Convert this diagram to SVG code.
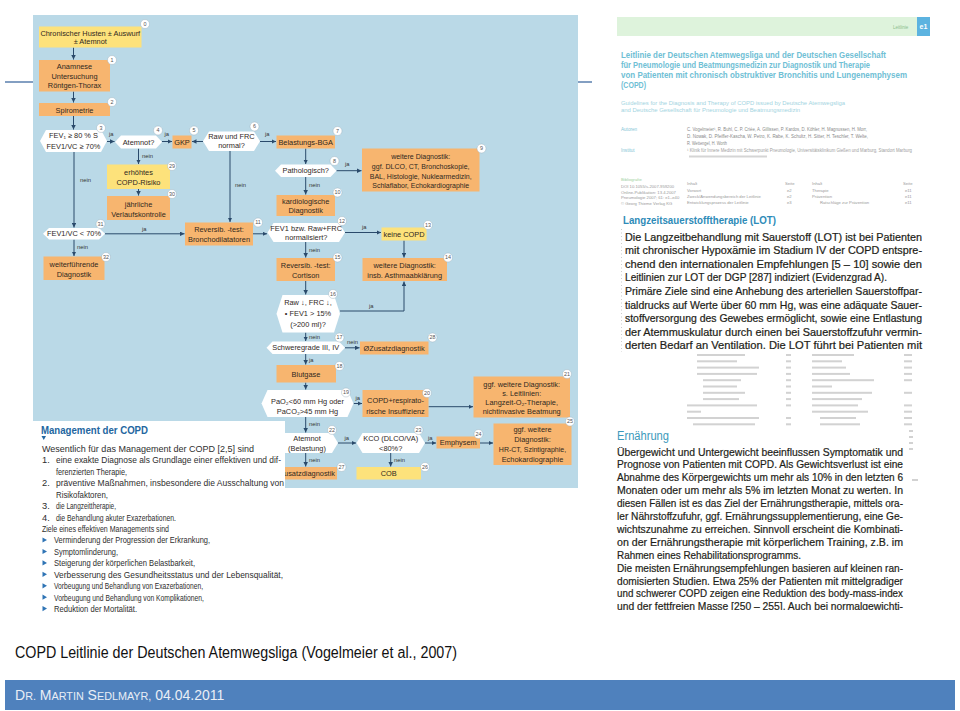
<svg xmlns="http://www.w3.org/2000/svg" width="960" height="711" viewBox="0 0 960 711">
<defs>
<marker id="ah" viewBox="0 0 6 6" refX="6" refY="3" markerWidth="4.5" markerHeight="4.5" markerUnits="userSpaceOnUse" orient="auto"><path d="M0,0 L6,3 L0,6 z" fill="#2a4a6b"/></marker>
<clipPath id="clipR"><rect x="600" y="0" width="340" height="610"/></clipPath>
</defs>
<style>
text{font-family:"Liberation Sans",Arial,sans-serif}
.fl{font-size:7.4px;fill:#2f281e;text-anchor:middle}
.sm{font-size:7px}
.o{fill:#f7b56f}
.y{fill:#fde27b}
.h{fill:#ffffff}
.bd{fill:#ffffff;stroke:#8fa7b5;stroke-width:0.4}
.bn{font-size:5.4px;fill:#555;text-anchor:middle}
.lb{font-size:5.8px;fill:#333}
.c{stroke:#2a4a6b;stroke-width:1;fill:none;marker-end:url(#ah)}
.mg{font-size:9.3px;fill:#2e2e2e}
.bl{fill:#2f74b5}
.toc{font-size:4.2px;fill:#9a9a9a}
.tr{fill:#d2d2d2}
.lot{font-size:11px;fill:#1e1e18;stroke:#1e1e18;stroke-width:0.22}
.er{font-size:10.8px;fill:#1e1e18;stroke:#1e1e18;stroke-width:0.2}
</style>
<rect x="0" y="0" width="960" height="711" fill="#ffffff"/>
<line x1="5" y1="82" x2="592" y2="82" stroke="#5a7fae" stroke-width="1.5"/>

<!-- Flowchart background -->
<rect x="33" y="15" width="545" height="473" fill="#bad9e7"/>

<g id="connectors">
<path class="c" d="M73.5,47.5 V59.5"/>
<path class="c" d="M73.5,91.5 V102.5"/>
<path class="c" d="M73.5,116 V129.5"/>
<path class="c" d="M107,141.5 H114.5"/>
<path class="c" d="M162,141.5 H172"/>
<path class="c" d="M203,141.5 H192"/>
<path class="c" d="M260,141.5 H276"/>
<path class="c" d="M305.7,148.5 V164"/>
<path class="c" d="M336.5,170.7 H361.5"/>
<path class="c" d="M305.7,177 V194.5"/>
<path class="c" d="M138.5,148.5 V164"/>
<path class="c" d="M138.5,189 V195.5"/>
<path class="c" d="M74,152 V227.5"/>
<path class="c" d="M105,233.8 H184.5"/>
<path class="c" d="M230,151 V222"/>
<path class="c" d="M74,239.5 V256"/>
<path class="c" d="M253,233.8 H267"/>
<path class="c" d="M345,232.5 H381"/>
<path class="c" d="M404,240.5 V257.5"/>
<path class="c" d="M305.7,242 V257.5"/>
<path class="c" d="M305.7,281 V294.5"/>
<path class="c" d="M340,311 H404 V281.5"/>
<path class="c" d="M305.7,332.5 V341"/>
<path class="c" d="M345,347.8 H359.5"/>
<path class="c" d="M305.7,354 V364.5"/>
<path class="c" d="M305.7,382.5 V389.5"/>
<path class="c" d="M353.5,403.5 H362"/>
<path class="c" d="M428.5,406.7 H473"/>
<path class="c" d="M305.7,417 V432.5"/>
<path class="c" d="M338,443 H356"/>
<path class="c" d="M425,443 H436"/>
<path class="c" d="M480,443 H493"/>
<path class="c" d="M390.7,453 V466.5"/>
<path class="c" d="M305.7,453 V466.5"/>
<text class="lb" x="109" y="136">ja</text>
<text class="lb" x="164.5" y="136">ja</text>
<text class="lb" x="265" y="136">ja</text>
<text class="lb" x="345" y="166">ja</text>
<text class="lb" x="309" y="187">nein</text>
<text class="lb" x="142" y="157.5">nein</text>
<text class="lb" x="80" y="182">nein</text>
<text class="lb" x="142" y="230.5">ja</text>
<text class="lb" x="235" y="187">nein</text>
<text class="lb" x="77" y="249">nein</text>
<text class="lb" x="362" y="229">ja</text>
<text class="lb" x="309" y="252">nein</text>
<text class="lb" x="369" y="308">ja</text>
<text class="lb" x="309" y="338.5">nein</text>
<text class="lb" x="347" y="344">nein</text>
<text class="lb" x="309" y="361.5">ja</text>
<text class="lb" x="355.5" y="400">ja</text>
<text class="lb" x="309" y="426">nein</text>
<text class="lb" x="344.5" y="439.5">ja</text>
<text class="lb" x="428" y="439.5">ja</text>
<text class="lb" x="394" y="461.5">nein</text>
<text class="lb" x="309" y="461.5">nein</text>
</g>

<g id="n0"><rect class="y" x="39" y="26.5" width="102.5" height="21"/>
<text class="fl" x="90.3" y="35.8">Chronischer Husten ± Auswurf</text><text class="fl" x="90.3" y="44.2">± Atemnot</text>
<circle class="bd" cx="145" cy="24" r="4.5"/><text class="bn" x="145" y="25.9">0</text></g>
<g id="n1"><rect class="o" x="39" y="60" width="71" height="31.5"/>
<text class="fl" x="74.5" y="68.5">Anamnese</text><text class="fl" x="74.5" y="78.5">Untersuchung</text><text class="fl" x="74.5" y="88.2">Röntgen-Thorax</text>
<circle class="bd" cx="112" cy="60" r="4.5"/><text class="bn" x="112" y="61.9">1</text></g>
<g id="n2"><rect class="o" x="39" y="103" width="71" height="13"/>
<text class="fl" x="74.5" y="112.5">Spirometrie</text>
<circle class="bd" cx="112" cy="102" r="4.5"/><text class="bn" x="112" y="103.9">2</text></g>
<g id="n3"><polygon class="h" points="40,141 46,130 101,130 107,141 101,152 46,152"/>
<text class="fl" x="73.5" y="137.5">FEV₁ ≥ 80 % S</text><text class="fl" x="73.5" y="148.5">FEV1/VC ≥ 70%</text>
<circle class="bd" cx="101" cy="128" r="4.5"/><text class="bn" x="101" y="129.9">3</text></g>
<g id="n4"><polygon class="h" points="115,142 121,135.5 156,135.5 162,142 156,148.5 121,148.5"/>
<text class="fl" x="138.5" y="144.5">Atemnot?</text>
<circle class="bd" cx="158" cy="130.5" r="4.5"/><text class="bn" x="158" y="132.4">4</text></g>
<g id="n5"><rect class="o" x="172.5" y="135.5" width="19" height="13"/>
<text class="fl" x="182" y="144.5">GKP</text>
<circle class="bd" cx="194" cy="130.5" r="4.5"/><text class="bn" x="194" y="132.4">5</text></g>
<g id="n6"><polygon class="h" points="203,141.3 209,131.5 254,131.5 260,141.3 254,151 209,151"/>
<text class="fl" x="231.5" y="139.2">Raw und FRC</text><text class="fl" x="231.5" y="148.2">normal?</text>
<circle class="bd" cx="254.5" cy="126.5" r="4.5"/><text class="bn" x="254.5" y="128.4">6</text></g>
<g id="n7"><rect class="o" x="276.5" y="135.5" width="58.5" height="13"/>
<text class="fl" x="305.7" y="144.5">Belastungs-BGA</text>
<circle class="bd" cx="337.5" cy="131" r="4.5"/><text class="bn" x="337.5" y="132.9">7</text></g>
<g id="n8"><polygon class="h" points="275,170.8 281,164.5 330.5,164.5 336.5,170.8 330.5,177 281,177"/>
<text class="fl" x="305.7" y="173.3">Pathologisch?</text>
<circle class="bd" cx="334.5" cy="161" r="4.5"/><text class="bn" x="334.5" y="162.9">8</text></g>
<g id="n9"><rect class="o" x="362" y="148.5" width="117.5" height="43"/>
<text class="fl sm" x="420.7" y="159.2">weitere Diagnostik:</text><text class="fl sm" x="420.7" y="169.2">ggf. DLCO, CT, Bronchoskopie,</text><text class="fl sm" x="420.7" y="179.2">BAL, Histologie, Nuklearmedizin,</text><text class="fl sm" x="420.7" y="188.2">Schlaflabor, Echokardiographie</text>
<circle class="bd" cx="481.5" cy="148.5" r="4.5"/><text class="bn" x="481.5" y="150.4">9</text></g>
<g id="n10"><rect class="o" x="276.5" y="195" width="58.5" height="21"/>
<text class="fl" x="305.7" y="203.5">kardiologische</text><text class="fl" x="305.7" y="213.2">Diagnostik</text>
<circle class="bd" cx="337.5" cy="192.5" r="4.5"/><text class="bn" x="337.5" y="194.4">10</text></g>
<g id="n29"><rect class="y" x="107" y="164.5" width="63" height="24.5"/>
<text class="fl" x="138.5" y="174.8">erhöhtes</text><text class="fl" x="138.5" y="185.2">COPD-Risiko</text>
<circle class="bd" cx="172" cy="166" r="4.5"/><text class="bn" x="172" y="167.9">29</text></g>
<g id="n30"><rect class="o" x="107" y="196" width="63" height="24"/>
<text class="fl" x="138.5" y="206.5">jährliche</text><text class="fl" x="138.5" y="216.8">Verlaufskontrolle</text>
<circle class="bd" cx="172" cy="194" r="4.5"/><text class="bn" x="172" y="195.9">30</text></g>
<g id="n31"><polygon class="h" points="43,233.8 49,228 99,228 105,233.8 99,239.5 49,239.5"/>
<text class="fl" x="74" y="236.3">FEV1/VC &lt; 70%</text>
<circle class="bd" cx="100.5" cy="224" r="4.5"/><text class="bn" x="100.5" y="225.9">31</text></g>
<g id="n32"><rect class="o" x="43.5" y="256.5" width="61" height="23.5"/>
<text class="fl" x="74" y="266.8">weiterführende</text><text class="fl" x="74" y="276.5">Diagnostik</text>
<circle class="bd" cx="106" cy="257" r="4.5"/><text class="bn" x="106" y="258.9">32</text></g>
<g id="n11"><rect class="o" x="185" y="222.5" width="68" height="23"/>
<text class="fl" x="219" y="231.8">Reversib. -test:</text><text class="fl" x="219" y="241.5">Bronchodilatatoren</text>
<circle class="bd" cx="258" cy="222.5" r="4.5"/><text class="bn" x="258" y="224.4">11</text></g>
<g id="n12"><polygon class="h" points="267.5,232.5 273.5,223 339,223 345,232.5 339,242 273.5,242"/>
<text class="fl" x="306.2" y="230.8">FEV1 bzw. Raw+FRC</text><text class="fl" x="306.2" y="240.3">normalisiert?</text>
<circle class="bd" cx="342" cy="221" r="4.5"/><text class="bn" x="342" y="222.9">12</text></g>
<g id="n13"><rect class="y" x="381.5" y="227.5" width="45" height="13"/>
<text class="fl" x="404" y="236.5">keine COPD</text>
<circle class="bd" cx="428" cy="225" r="4.5"/><text class="bn" x="428" y="226.9">13</text></g>
<g id="n14"><rect class="o" x="362.5" y="258" width="84.5" height="23"/>
<text class="fl" x="404.7" y="268.2">weitere Diagnostik:</text><text class="fl" x="404.7" y="277.5">insb. Asthmaabklärung</text>
<circle class="bd" cx="448" cy="257.5" r="4.5"/><text class="bn" x="448" y="259.4">14</text></g>
<g id="n15"><rect class="o" x="276.5" y="258" width="58.5" height="23"/>
<text class="fl" x="305.7" y="268.2">Reversib. -test:</text><text class="fl" x="305.7" y="278.2">Cortison</text>
<circle class="bd" cx="337.5" cy="257.5" r="4.5"/><text class="bn" x="337.5" y="259.4">15</text></g>
<g id="n16"><polygon class="h" points="276.5,313.8 282.5,295 334,295 340,313.8 334,332.5 282.5,332.5"/>
<text class="fl" x="308" y="305.2">Raw ↓, FRC ↓,</text><text class="fl" x="308" y="315.8">• FEV1 &gt; 15%</text><text class="fl" x="308" y="326.8">(&gt;200 ml)?</text>
<circle class="bd" cx="333" cy="294" r="4.5"/><text class="bn" x="333" y="295.9">16</text></g>
<g id="n17"><polygon class="h" points="266.5,347.8 272.5,341.5 339,341.5 345,347.8 339,354 272.5,354"/>
<text class="fl" x="305.7" y="350.3">Schweregrade III, IV</text>
<circle class="bd" cx="339.5" cy="337.5" r="4.5"/><text class="bn" x="339.5" y="339.4">17</text></g>
<g id="n28"><rect class="o" x="360" y="341.5" width="68.5" height="13"/>
<text class="fl" x="394" y="350.5">ØZusatzdiagnostik</text>
<circle class="bd" cx="432.5" cy="337.5" r="4.5"/><text class="bn" x="432.5" y="339.4">28</text></g>
<g id="n18"><rect class="o" x="276.5" y="365" width="59.5" height="17.5"/>
<text class="fl" x="306" y="376.8">Blutgase</text>
<circle class="bd" cx="339.5" cy="366" r="4.5"/><text class="bn" x="339.5" y="367.9">18</text></g>
<g id="n19"><polygon class="h" points="261.5,403.5 267.5,390 347.5,390 353.5,403.5 347.5,417 267.5,417"/>
<text class="fl" x="307.5" y="404.2">PaO₂&lt;60 mm Hg oder</text><text class="fl" x="307.5" y="414.2">PaCO₂&gt;45 mm Hg</text>
<circle class="bd" cx="346" cy="392.5" r="4.5"/><text class="bn" x="346" y="394.4">19</text></g>
<g id="n20"><rect class="o" x="362.5" y="390" width="66" height="27"/>
<text class="fl" x="395.5" y="403.2">COPD+respirato-</text><text class="fl" x="395.5" y="413.5">rische Insuffizienz</text>
<circle class="bd" cx="427" cy="393" r="4.5"/><text class="bn" x="427" y="394.9">20</text></g>
<g id="n21"><rect class="o" x="473.5" y="376.5" width="96.5" height="41"/>
<text class="fl" x="521.7" y="386.5">ggf. weitere Diagnostik:</text><text class="fl" x="521.7" y="395.8">s. Leitlinien:</text><text class="fl" x="521.7" y="405.2">Langzeit-O₂-Therapie,</text><text class="fl" x="521.7" y="414.2">nichtinvasive Beatmung</text>
<circle class="bd" cx="567" cy="374" r="4.5"/><text class="bn" x="567" y="375.9">21</text></g>
<g id="n22"><polygon class="h" points="275,443 281,433 332,433 338,443 332,453 281,453"/>
<text class="fl" x="307" y="440.8">Atemnot</text><text class="fl" x="307" y="450.8">(Belastung)</text>
<circle class="bd" cx="332" cy="430" r="4.5"/><text class="bn" x="332" y="431.9">22</text></g>
<g id="n23"><polygon class="h" points="356.5,443 362.5,433 419,433 425,443 419,453 362.5,453"/>
<text class="fl" x="390.7" y="440.8">KCO (DLCO/VA)</text><text class="fl" x="390.7" y="450.8">&lt;80%?</text>
<circle class="bd" cx="418.5" cy="430" r="4.5"/><text class="bn" x="418.5" y="431.9">23</text></g>
<g id="n24"><rect class="o" x="436.5" y="436.5" width="43.5" height="12"/>
<text class="fl" x="458.3" y="445">Emphysem</text>
<circle class="bd" cx="478.5" cy="434" r="4.5"/><text class="bn" x="478.5" y="435.9">24</text></g>
<g id="n25"><rect class="o" x="493.5" y="423.5" width="78" height="41.5"/>
<text class="fl" x="532.5" y="431.8">ggf. weitere</text><text class="fl" x="532.5" y="441.8">Diagnostik:</text><text class="fl sm" x="532.5" y="451.8">HR-CT, Szintigraphie,</text><text class="fl" x="532.5" y="461.8">Echokardiographie</text>
<circle class="bd" cx="570" cy="421.5" r="4.5"/><text class="bn" x="570" y="423.4">25</text></g>
<g id="n26"><rect class="y" x="356.5" y="467" width="64.5" height="12.5"/>
<text class="fl" x="388.7" y="476">COB</text>
<circle class="bd" cx="425" cy="467" r="4.5"/><text class="bn" x="425" y="468.9">26</text></g>
<g id="n27"><rect class="o" x="266" y="467" width="71" height="12.5"/>
<text class="fl" x="335" y="476" style="text-anchor:end">ØZusatzdiagnostik</text>
<circle class="bd" cx="341.5" cy="467" r="4.5"/><text class="bn" x="341.5" y="468.9">27</text></g>

<!-- Management box -->
<g id="management">
<rect x="33" y="421" width="252" height="204" fill="#ffffff"/>
<text x="41" y="434" font-size="10.2" font-weight="bold" fill="#2366a0" textLength="107" lengthAdjust="spacingAndGlyphs">Management der COPD</text>
<polygon points="41.5,436 46,436 43.75,440" fill="#2366a0"/>
<text class="mg" x="42" y="452" textLength="212" lengthAdjust="spacingAndGlyphs">Wesentlich für das Management der COPD [2,5] sind</text>
<text class="mg" x="42" y="463.4">1.</text><text class="mg" x="56" y="463.4" textLength="225" lengthAdjust="spacingAndGlyphs">eine exakte Diagnose als Grundlage einer effektiven und dif-</text>
<text class="mg" x="56" y="474.9" textLength="71" lengthAdjust="spacingAndGlyphs">ferenzierten Therapie,</text>
<text class="mg" x="42" y="486.3">2.</text><text class="mg" x="56" y="486.3" textLength="228" lengthAdjust="spacingAndGlyphs">präventive Maßnahmen, insbesondere die Ausschaltung von</text>
<text class="mg" x="56" y="497.7" textLength="52" lengthAdjust="spacingAndGlyphs">Risikofaktoren,</text>
<text class="mg" x="42" y="509.2">3.</text><text class="mg" x="56" y="509.2" textLength="60" lengthAdjust="spacingAndGlyphs">die Langzeittherapie,</text>
<text class="mg" x="42" y="520.6">4.</text><text class="mg" x="56" y="520.6" textLength="120" lengthAdjust="spacingAndGlyphs">die Behandlung akuter Exazerbationen.</text>
<text class="mg" x="42" y="532" textLength="127" lengthAdjust="spacingAndGlyphs">Ziele eines effektiven Managements sind</text>
<polygon class="bl" points="42.5,537.4 47,540 42.5,542.6"/><text class="mg" x="54" y="543.4" textLength="156" lengthAdjust="spacingAndGlyphs">Verminderung der Progression der Erkrankung,</text>
<polygon class="bl" points="42.5,548.9 47,551.5 42.5,554.1"/><text class="mg" x="54" y="554.9" textLength="64" lengthAdjust="spacingAndGlyphs">Symptomlinderung,</text>
<polygon class="bl" points="42.5,560.3 47,562.9 42.5,565.5"/><text class="mg" x="54" y="566.3" textLength="141" lengthAdjust="spacingAndGlyphs">Steigerung der körperlichen Belastbarkeit,</text>
<polygon class="bl" points="42.5,571.7 47,574.3 42.5,576.9"/><text class="mg" x="54" y="577.7" textLength="229" lengthAdjust="spacingAndGlyphs">Verbesserung des Gesundheitsstatus und der Lebensqualität,</text>
<polygon class="bl" points="42.5,583.2 47,585.8 42.5,588.4"/><text class="mg" x="54" y="589.2" textLength="149" lengthAdjust="spacingAndGlyphs">Vorbeugung und Behandlung von Exazerbationen,</text>
<polygon class="bl" points="42.5,594.6 47,597.2 42.5,599.8"/><text class="mg" x="54" y="600.6" textLength="150" lengthAdjust="spacingAndGlyphs">Vorbeugung und Behandlung von Komplikationen,</text>
<polygon class="bl" points="42.5,606 47,608.6 42.5,611.2"/><text class="mg" x="54" y="612" textLength="83" lengthAdjust="spacingAndGlyphs">Reduktion der Mortalität.</text>
</g>

<!-- Right document page -->
<g id="document" clip-path="url(#clipR)">
<rect x="617" y="17" width="300" height="19" fill="#def3dc"/>
<text x="893" y="29" font-size="4.5" fill="#8cbf8c">Leitlinie</text>
<rect x="917" y="17" width="13" height="19" fill="#5cb3e0"/>
<text x="923.5" y="29" font-size="7" font-weight="bold" fill="#ffffff" text-anchor="middle">e1</text>
<g fill="#6fc0d5" font-weight="bold" font-size="8.4">
<text x="621" y="58" textLength="265" lengthAdjust="spacingAndGlyphs">Leitlinie der Deutschen Atemwegsliga und der Deutschen Gesellschaft</text>
<text x="621" y="68" textLength="249" lengthAdjust="spacingAndGlyphs">für Pneumologie und Beatmungsmedizin zur Diagnostik und Therapie</text>
<text x="621" y="77.5" textLength="286" lengthAdjust="spacingAndGlyphs">von Patienten mit chronisch obstruktiver Bronchitis und Lungenemphysem</text>
<text x="621" y="87.5" textLength="25" lengthAdjust="spacingAndGlyphs">(COPD)</text>
</g>
<g fill="#a3d4e1" font-size="5.6">
<text x="621" y="104.5" textLength="224" lengthAdjust="spacingAndGlyphs">Guidelines for the Diagnosis and Therapy of COPD issued by Deutsche Atemwegsliga</text>
<text x="621" y="111.5" textLength="179" lengthAdjust="spacingAndGlyphs">and Deutsche Gesellschaft für Pneumologie und Beatmungsmedizin</text>
</g>
<g font-size="4.6" fill="#8a8a8a">
<text x="621" y="131" fill="#86c5d6">Autoren</text>
<text x="687" y="131" textLength="180" lengthAdjust="spacingAndGlyphs">C. Vogelmeier¹, R. Buhl, C. P. Criée, A. Gillissen, P. Kardos, D. Köhler, H. Magnussen, H. Morr,</text>
<text x="687" y="138" textLength="181" lengthAdjust="spacingAndGlyphs">D. Nowak, D. Pfeiffer-Kascha, W. Petro, K. Rabe, K. Schultz, H. Sitter, H. Teschler, T. Welte,</text>
<text x="687" y="145" textLength="40" lengthAdjust="spacingAndGlyphs">R. Wettengel, H. Worth</text>
<text x="621" y="152" fill="#86c5d6">Institut</text>
<text x="687" y="152" textLength="225" lengthAdjust="spacingAndGlyphs" fill="#a0a0a0">¹ Klinik für Innere Medizin mit Schwerpunkt Pneumologie, Universitätsklinikum Gießen und Marburg, Standort Marburg</text>
</g>
<rect x="689" y="155.5" width="78" height="2" fill="#d5d5d5"/>
<g class="toc">
<text x="621" y="181" fill="#9ccf9c">Bibliografie</text>
<text x="621" y="188">DOI 10.1055/s-2007-959200</text>
<text x="621" y="193.5">Online-Publikation: 13.4.2007</text>
<text x="621" y="199">Pneumologie 2007; 61: e1–e40</text>
<text x="621" y="204.5">© Georg Thieme Verlag KG</text>
<text x="687" y="184.5">Inhalt</text><text x="785" y="184.5">Seite</text><text x="812" y="184.5">Inhalt</text><text x="903" y="184.5">Seite</text>
<text x="687" y="191.5">Vorwort</text><text x="787" y="191.5">e2</text><text x="812" y="191.5">Therapie</text><text x="905" y="191.5">e11</text>
<text x="687" y="197.5">Zweck/Anwendungsbereich der Leitlinie</text><text x="787" y="197.5">e2</text><text x="812" y="197.5">Prävention</text><text x="905" y="197.5">e11</text>
<text x="687" y="203.5">Entwicklungsprozess der Leitlinie</text><text x="787" y="203.5">e3</text><text x="820" y="203.5">Ratschläge zur Prävention</text><text x="905" y="203.5">e11</text>
</g>
<g id="toc-lower">
<rect class="tr" x="697" y="354" width="48" height="2"/><rect class="tr" x="786" y="354" width="5" height="2"/><rect class="tr" x="812" y="354" width="42" height="2"/><rect class="tr" x="904" y="354" width="8" height="2"/>
<rect class="tr" x="697" y="360.3" width="40" height="2"/><rect class="tr" x="786" y="360.3" width="5" height="2"/><rect class="tr" x="812" y="360.3" width="30" height="2"/><rect class="tr" x="904" y="360.3" width="8" height="2"/>
<rect class="tr" x="697" y="366.6" width="62" height="2"/><rect class="tr" x="786" y="366.6" width="5" height="2"/><rect class="tr" x="812" y="366.6" width="34" height="2"/><rect class="tr" x="904" y="366.6" width="8" height="2"/>
<rect class="tr" x="697" y="372.9" width="60" height="2"/><rect class="tr" x="786" y="372.9" width="5" height="2"/><rect class="tr" x="812" y="372.9" width="38" height="2"/><rect class="tr" x="904" y="372.9" width="8" height="2"/>
<rect class="tr" x="703" y="379.2" width="38" height="2"/><rect class="tr" x="786" y="379.2" width="5" height="2"/><rect class="tr" x="812" y="379.2" width="62" height="2"/><rect class="tr" x="904" y="379.2" width="8" height="2"/>
<rect class="tr" x="703" y="385.5" width="34" height="2"/><rect class="tr" x="786" y="385.5" width="5" height="2"/><rect class="tr" x="812" y="385.5" width="20" height="2"/>
<rect class="tr" x="703" y="391.8" width="42" height="2"/><rect class="tr" x="786" y="391.8" width="5" height="2"/><rect class="tr" x="812" y="391.8" width="60" height="2"/><rect class="tr" x="904" y="391.8" width="8" height="2"/>
<rect class="tr" x="703" y="398.1" width="36" height="2"/><rect class="tr" x="786" y="398.1" width="5" height="2"/><rect class="tr" x="812" y="398.1" width="50" height="2"/>
<rect class="tr" x="687" y="404.4" width="70" height="2"/><rect class="tr" x="786" y="404.4" width="5" height="2"/><rect class="tr" x="812" y="404.4" width="46" height="2"/><rect class="tr" x="904" y="404.4" width="8" height="2"/>
<rect class="tr" x="687" y="410.7" width="14" height="2"/><rect class="tr" x="812" y="410.7" width="56" height="2"/><rect class="tr" x="904" y="410.7" width="8" height="2"/>
<rect class="tr" x="687" y="417" width="72" height="2"/><rect class="tr" x="786" y="417" width="5" height="2"/><rect class="tr" x="820" y="417" width="36" height="2"/><rect class="tr" x="904" y="417" width="8" height="2"/>
<rect class="tr" x="693" y="423.3" width="62" height="2"/><rect class="tr" x="786" y="423.3" width="5" height="2"/><rect class="tr" x="820" y="423.3" width="40" height="2"/><rect class="tr" x="904" y="423.3" width="8" height="2"/>
<rect class="tr" x="909" y="430" width="4" height="2"/><rect class="tr" x="909" y="436" width="4" height="2"/><rect class="tr" x="909" y="442" width="4" height="2"/><rect class="tr" x="909" y="448" width="4" height="2"/><rect class="tr" x="912" y="479" width="6" height="2"/>
</g>

<!-- LOT excerpt -->
<rect x="617" y="207" width="313" height="145" fill="#ffffff"/>
<line x1="621.5" y1="229" x2="621.5" y2="352" stroke="#c0c0c0" stroke-width="0.8" stroke-dasharray="1,2.5"/>
<text x="623" y="223.5" font-size="11.5" font-weight="bold" fill="#2e8bb8" textLength="153" lengthAdjust="spacingAndGlyphs">Langzeitsauerstofftherapie (LOT)</text>
<text class="lot" x="625" y="240.5" textLength="297" lengthAdjust="spacingAndGlyphs">Die Langzeitbehandlung mit Sauerstoff (LOT) ist bei Patienten</text>
<text class="lot" x="625" y="254.1" textLength="297" lengthAdjust="spacingAndGlyphs">mit chronischer Hypoxämie im Stadium IV der COPD entspre-</text>
<text class="lot" x="625" y="267.7" textLength="297" lengthAdjust="spacingAndGlyphs">chend den internationalen Empfehlungen [5 – 10] sowie den</text>
<text class="lot" x="625" y="281.3" textLength="262" lengthAdjust="spacingAndGlyphs">Leitlinien zur LOT der DGP [287] indiziert (Evidenzgrad A).</text>
<text class="lot" x="625" y="294.9" textLength="297" lengthAdjust="spacingAndGlyphs">Primäre Ziele sind eine Anhebung des arteriellen Sauerstoffpar-</text>
<text class="lot" x="625" y="308.5" textLength="297" lengthAdjust="spacingAndGlyphs">tialdrucks auf Werte über 60 mm Hg, was eine adäquate Sauer-</text>
<text class="lot" x="625" y="322.1" textLength="297" lengthAdjust="spacingAndGlyphs">stoffversorgung des Gewebes ermöglicht, sowie eine Entlastung</text>
<text class="lot" x="625" y="335.7" textLength="297" lengthAdjust="spacingAndGlyphs">der Atemmuskulatur durch einen bei Sauerstoffzufuhr vermin-</text>
<text class="lot" x="625" y="349.3" textLength="297" lengthAdjust="spacingAndGlyphs">derten Bedarf an Ventilation. Die LOT führt bei Patienten mit</text>

<!-- Ernaehrung excerpt -->
<rect x="614" y="428" width="292" height="184" fill="#ffffff"/>
<text x="617" y="440" font-size="12.5" fill="#3b99bb" textLength="52" lengthAdjust="spacingAndGlyphs">Ernährung</text>
<text class="er" x="617" y="455.5" textLength="286" lengthAdjust="spacingAndGlyphs">Übergewicht und Untergewicht beeinflussen Symptomatik und</text>
<text class="er" x="617" y="468.4" textLength="286" lengthAdjust="spacingAndGlyphs">Prognose von Patienten mit COPD. Als Gewichtsverlust ist eine</text>
<text class="er" x="617" y="481.3" textLength="286" lengthAdjust="spacingAndGlyphs">Abnahme des Körpergewichts um mehr als 10% in den letzten 6</text>
<text class="er" x="617" y="494.2" textLength="286" lengthAdjust="spacingAndGlyphs">Monaten oder um mehr als 5% im letzten Monat zu werten. In</text>
<text class="er" x="617" y="507.1" textLength="286" lengthAdjust="spacingAndGlyphs">diesen Fällen ist es das Ziel der Ernährungstherapie, mittels ora-</text>
<text class="er" x="617" y="520" textLength="286" lengthAdjust="spacingAndGlyphs">ler Nährstoffzufuhr, ggf. Ernährungssupplementierung, eine Ge-</text>
<text class="er" x="617" y="532.9" textLength="286" lengthAdjust="spacingAndGlyphs">wichtszunahme zu erreichen. Sinnvoll erscheint die Kombinati-</text>
<text class="er" x="617" y="545.8" textLength="286" lengthAdjust="spacingAndGlyphs">on der Ernährungstherapie mit körperlichem Training, z.B. im</text>
<text class="er" x="617" y="558.7" textLength="184" lengthAdjust="spacingAndGlyphs">Rahmen eines Rehabilitationsprogramms.</text>
<text class="er" x="617" y="571.6" textLength="286" lengthAdjust="spacingAndGlyphs">Die meisten Ernährungsempfehlungen basieren auf kleinen ran-</text>
<text class="er" x="617" y="584.5" textLength="286" lengthAdjust="spacingAndGlyphs">domisierten Studien. Etwa 25% der Patienten mit mittelgradiger</text>
<text class="er" x="617" y="597.4" textLength="286" lengthAdjust="spacingAndGlyphs">und schwerer COPD zeigen eine Reduktion des body-mass-index</text>
<text class="er" x="617" y="610.3" textLength="286" lengthAdjust="spacingAndGlyphs">und der fettfreien Masse [250 – 255]. Auch bei normalgewichti-</text>
</g>

<!-- Caption and footer -->
<text x="15" y="658" font-size="16" fill="#111111" textLength="442" lengthAdjust="spacingAndGlyphs">COPD Leitlinie der Deutschen Atemwegsliga (Vogelmeier et al., 2007)</text>
<rect x="5" y="680" width="950" height="30" fill="#4f81bd"/>
<text x="15" y="700" fill="#e9eef6" font-size="14"><tspan>D</tspan><tspan font-size="10.8">R.</tspan> M<tspan font-size="10.8">ARTIN</tspan> S<tspan font-size="10.8">EDLMAYR,</tspan> 04.04.2011</text>
</svg>
